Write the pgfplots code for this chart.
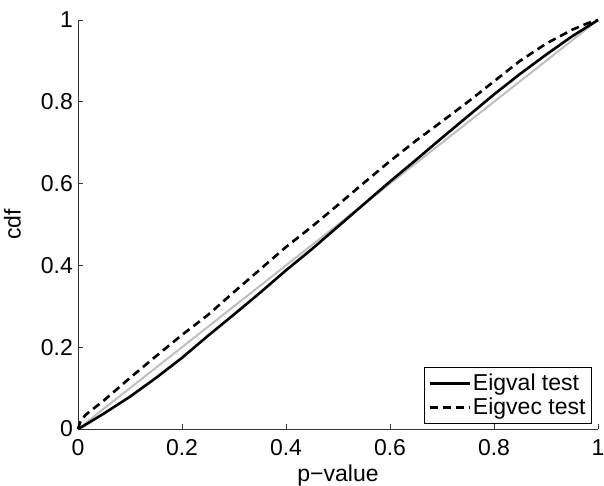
\documentclass[border=0pt]{standalone}
\usepackage{fontspec}
\setmainfont{Liberation Sans}
\usepackage{pgfplots}
\pgfplotsset{compat=1.18}
\newcommand{\ff}{\fontsize{23bp}{27bp}\selectfont}
\definecolor{lgray}{rgb}{0.75,0.75,0.75}
\begin{document}
\ff
\begin{tikzpicture}
\begin{axis}[
  scale only axis, width=520bp, height=409bp,
  xmin=0, xmax=1, ymin=0, ymax=1,
  axis x line=bottom, axis y line=left,
  axis line style={-, line width=0.6bp, black!80},
  xtick={0,0.2,0.4,0.6,0.8,1},
  ytick={0,0.2,0.4,0.6,0.8,1},
  xticklabels={0,0.2,0.4,0.6,0.8,1},
  yticklabels={0,0.2,0.4,0.6,0.8,1},
  tick align=inside, major tick length=5bp,
  tick style={line width=0.6bp, black!80},
  ticklabel style={font=\ff},
  xticklabel style={inner sep=1bp, yshift=-9bp},
  yticklabel style={inner sep=2bp, xshift=-3bp},
  label style={font=\ff},
  xlabel={p−value}, ylabel={cdf},
  xlabel style={yshift=0bp},
  ylabel style={yshift=10bp},
  legend style={at={(0.988,0.012)}, anchor=south east, draw=black, line width=0.6bp,
    font=\ff, inner xsep=4bp, inner ysep=4bp, row sep=0bp, cells={anchor=west}},
  legend image code/.code={\draw[#1] (0bp,0bp) -- (40bp,0bp);},
  clip=false,
]
\coordinate (sw) at (rel axis cs:0,0);
\coordinate (ne) at (rel axis cs:1,1);
\addplot[lgray, line width=2bp, forget plot] coordinates {(0,0) (1,1)};
\addplot[black, line width=2.6bp] coordinates {
(0,0) (0.01,0.007) (0.05,0.038) (0.1,0.079) (0.15,0.125) (0.2,0.174) (0.25,0.228)
(0.3,0.28) (0.35,0.333) (0.4,0.388) (0.45,0.44) (0.5,0.495) (0.55,0.55) (0.6,0.605)
(0.65,0.658) (0.7,0.712) (0.75,0.765) (0.8,0.818) (0.85,0.868) (0.9,0.915) (0.95,0.96) (1,1)};
\addlegendentry{Eigval test}
\addplot[black, line width=2.6bp, dash pattern=on 8bp off 5bp] coordinates {
(0,0) (0.005,0.02) (0.015,0.035) (0.05,0.07) (0.1,0.125) (0.15,0.178) (0.2,0.23)
(0.25,0.279) (0.3,0.335) (0.35,0.39) (0.4,0.445) (0.45,0.495) (0.5,0.548) (0.55,0.602)
(0.6,0.655) (0.65,0.705) (0.7,0.752) (0.75,0.80) (0.8,0.85) (0.85,0.9) (0.9,0.942)
(0.95,0.976) (0.98,0.992) (1,1)};
\addlegendentry{Eigvec test}
\end{axis}
\pgfresetboundingbox
\path[use as bounding box] ([shift={(-78bp,-57bp)}]sw) rectangle ([shift={(6bp,20bp)}]ne);
\end{tikzpicture}
\end{document}
